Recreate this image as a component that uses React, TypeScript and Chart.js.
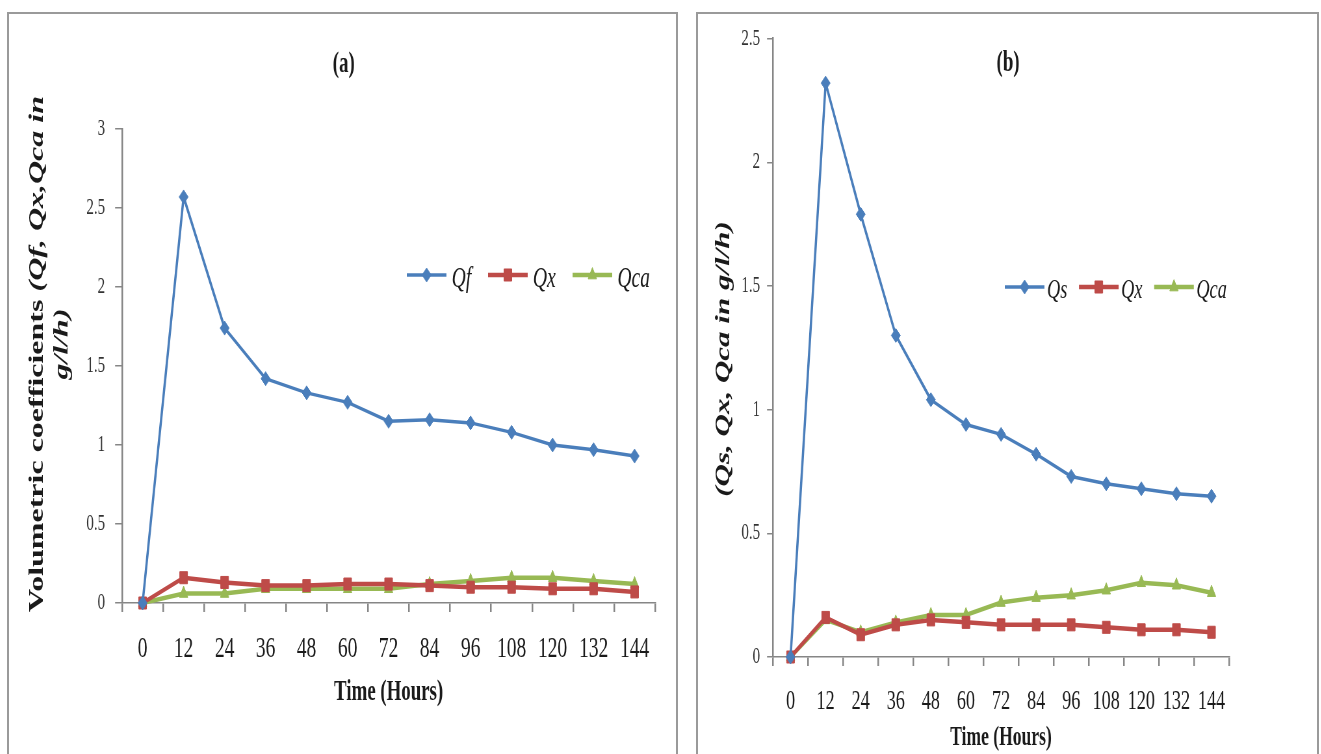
import React, { useEffect, useRef } from "react";
import { Chart, registerables } from "chart.js";

Chart.register(...registerables);

// The original figure is horizontally squeezed; we draw wider and squeeze with CSS.
const SQ = 0.65;

const hours = ["0", "12", "24", "36", "48", "60", "72", "84", "96", "108", "120", "132", "144"];

// Panel (a)
const qfA = [0, 2.57, 1.74, 1.42, 1.33, 1.27, 1.15, 1.16, 1.14, 1.08, 1.0, 0.97, 0.93];
const qxA = [0, 0.16, 0.13, 0.11, 0.11, 0.12, 0.12, 0.11, 0.1, 0.1, 0.09, 0.09, 0.07];
const qcaA = [0, 0.06, 0.06, 0.09, 0.09, 0.09, 0.09, 0.12, 0.14, 0.16, 0.16, 0.14, 0.12];

// Panel (b)
const qsB = [0, 2.32, 1.79, 1.3, 1.04, 0.94, 0.9, 0.82, 0.73, 0.7, 0.68, 0.66, 0.65];
const qxB = [0, 0.16, 0.09, 0.13, 0.15, 0.14, 0.13, 0.13, 0.13, 0.12, 0.11, 0.11, 0.1];
const qcaB = [0, 0.15, 0.1, 0.14, 0.17, 0.17, 0.22, 0.24, 0.25, 0.27, 0.3, 0.29, 0.26];

const BLUE = "#4A7EBB";
const RED = "#BE4B48";
const GREEN = "#98B954";
const AXIS = "#868686";
const TEXT = "#1a1a1a";
const SERIF = "'Liberation Serif', 'Times New Roman', serif";

function drawMarker(ctx: CanvasRenderingContext2D, style: string, x: number, y: number, r: number, color: string) {
  ctx.save();
  ctx.fillStyle = color;
  ctx.strokeStyle = color;
  ctx.lineWidth = 1;
  ctx.beginPath();
  if (style === "rectRot") {
    ctx.moveTo(x, y - r);
    ctx.lineTo(x + r, y);
    ctx.lineTo(x, y + r);
    ctx.lineTo(x - r, y);
    ctx.closePath();
  } else if (style === "rect") {
    const s = r * Math.SQRT1_2;
    ctx.rect(x - s, y - s, 2 * s, 2 * s);
  } else {
    const h = r * 1.5;
    ctx.moveTo(x, y - h * 0.66);
    ctx.lineTo(x + r * 0.87, y + h * 0.34);
    ctx.lineTo(x - r * 0.87, y + h * 0.34);
    ctx.closePath();
  }
  ctx.fill();
  ctx.stroke();
  ctx.restore();
}

const decor = {
  id: "decor",
  afterDraw(chart: any, _args: any, o: any) {
    const ctx: CanvasRenderingContext2D = chart.ctx;
    ctx.save();
    // panel title
    ctx.fillStyle = TEXT;
    ctx.font = `bold ${o.titleSize}px ${SERIF}`;
    ctx.textAlign = "center";
    ctx.textBaseline = "middle";
    ctx.fillText(o.title, o.titleX, o.titleY);

    // y axis title (rotated, possibly mixed styles)
    for (const line of o.yLines) {
      ctx.save();
      ctx.translate(line.x, line.y);
      ctx.rotate(-Math.PI / 2);
      ctx.textAlign = "left";
      ctx.textBaseline = "middle";
      ctx.fillStyle = TEXT;
      let total = 0;
      for (const s of line.segs) {
        ctx.font = s.font;
        total += ctx.measureText(s.text).width;
      }
      let cx = -total / 2;
      for (const s of line.segs) {
        ctx.font = s.font;
        ctx.fillText(s.text, cx, 0);
        cx += ctx.measureText(s.text).width;
      }
      ctx.restore();
    }

    // legend
    const L = o.legend;
    let x = L.x;
    const y = L.y;
    chart.data.datasets.forEach((ds: any) => {
      ctx.strokeStyle = ds.borderColor;
      ctx.lineWidth = ds.borderWidth;
      ctx.beginPath();
      ctx.moveTo(x, y);
      ctx.lineTo(x + L.lineLen, y);
      ctx.stroke();
      drawMarker(ctx, ds.pointStyle, x + L.lineLen / 2, y, ds.pointRadius, ds.borderColor);
      x += L.lineLen + L.gap;
      ctx.font = `italic ${L.size}px ${SERIF}`;
      ctx.fillStyle = TEXT;
      ctx.textAlign = "left";
      ctx.textBaseline = "middle";
      ctx.fillText(ds.label, x, y + L.textDy);
      x += ctx.measureText(ds.label).width + L.spacing;
    });
    ctx.restore();
  },
};

type Series = { label: string; data: number[]; color: string; width: number; style: string; radius: number };

function buildConfig(p: any) {
  return {
    type: "line",
    data: {
      labels: hours,
      datasets: p.series.map((s: Series) => ({
        label: s.label,
        data: s.data,
        borderColor: s.color,
        backgroundColor: s.color,
        borderWidth: s.width,
        pointStyle: s.style,
        pointRadius: s.radius,
        pointBackgroundColor: s.color,
        pointBorderColor: s.color,
        pointBorderWidth: 1,
        tension: 0,
        fill: false,
        clip: false,
      })),
    },
    options: {
      responsive: false,
      animation: false,
      events: [],
      layout: { padding: { left: 0, right: p.padRight, top: p.padTop, bottom: 0 } },
      plugins: {
        legend: { display: false },
        title: { display: false },
        tooltip: { enabled: false },
        decor: p.decor,
      },
      scales: {
        x: {
          type: "category",
          offset: true,
          grid: {
            offset: true,
            drawOnChartArea: false,
            drawTicks: true,
            tickLength: 9,
            color: AXIS,
            lineWidth: 2.5,
          },
          border: { display: true, color: AXIS, width: 1.5 },
          ticks: {
            font: { family: SERIF, size: p.xTickSize },
            color: TEXT,
            padding: p.xTickPad,
            maxRotation: 0,
            autoSkip: false,
          },
          title: {
            display: true,
            text: "Time (Hours)",
            font: { family: SERIF, size: p.xTitleSize, weight: "bold" },
            color: TEXT,
            padding: { top: 0, bottom: p.xTitlePadBottom },
          },
          afterFit: (s: any) => {
            s.height = p.xHeight;
          },
        },
        y: {
          min: 0,
          max: p.yMax,
          ticks: {
            stepSize: 0.5,
            font: { family: SERIF, size: p.yTickSize },
            color: "#333",
            padding: p.yTickPad,
            callback: (v: any) => `${Number(v)}`,
          },
          grid: {
            drawOnChartArea: false,
            drawTicks: true,
            tickLength: p.yTickLen,
            color: AXIS,
            lineWidth: 1.5,
          },
          border: { display: true, color: AXIS, width: 2.5 },
          afterFit: (s: any) => {
            s.width = p.yWidth;
          },
        },
      },
    },
    plugins: [decor],
  };
}

function ChartCanvas({ config, width, height }: { config: any; width: number; height: number }) {
  const ref = useRef<HTMLCanvasElement | null>(null);
  useEffect(() => {
    if (!ref.current) return;
    const chart = new Chart(ref.current, config);
    return () => chart.destroy();
  }, [config]);
  return <canvas ref={ref} width={width} height={height} style={{ display: "block" }} />;
}

const boldSerif = (size: number) => `bold ${size}px ${SERIF}`;
const boldItalicSerif = (size: number) => `italic bold ${size}px ${SERIF}`;

const configA = buildConfig({
  series: [
    { label: "Qf", data: qfA, color: BLUE, width: 3.5, style: "rectRot", radius: 7 },
    { label: "Qx", data: qxA, color: RED, width: 4.5, style: "rect", radius: 8.5 },
    { label: "Qca", data: qcaA, color: GREEN, width: 4.5, style: "triangle", radius: 7.5 },
  ],
  padRight: 32,
  padTop: 115,
  yMax: 3,
  yWidth: 174,
  yTickLen: 10.8,
  yTickPad: 15.5,
  yTickSize: 23,
  xHeight: 151,
  xTickSize: 30,
  xTickPad: 19,
  xTitleSize: 29,
  xTitlePadBottom: 44,
  decor: {
    title: "(a)",
    titleSize: 29,
    titleX: 515,
    titleY: 51,
    yLines: [
      {
        x: 44,
        y: 340,
        segs: [
          { text: "Volumetric coefficients ", font: boldSerif(32) },
          { text: "(Qf, Qx,Qca in", font: boldItalicSerif(32) },
        ],
      },
      { x: 82, y: 330, segs: [{ text: "g/l/h)", font: boldItalicSerif(32) }] },
    ],
    legend: { x: 612, y: 261, lineLen: 61, gap: 8, spacing: 26, size: 30, textDy: 4 },
  },
});

const configB = buildConfig({
  series: [
    { label: "Qs", data: qsB, color: BLUE, width: 3.5, style: "rectRot", radius: 7 },
    { label: "Qx", data: qxB, color: RED, width: 4.5, style: "rect", radius: 8.5 },
    { label: "Qca", data: qcaB, color: GREEN, width: 4.5, style: "triangle", radius: 7.5 },
  ],
  padRight: 135,
  padTop: 19,
  yMax: 2.5,
  yWidth: 115.4,
  yTickLen: 9.2,
  yTickPad: 10.8,
  yTickSize: 23,
  xHeight: 97,
  xTickSize: 28,
  xTickPad: 19,
  xTitleSize: 27,
  xTitlePadBottom: 0,
  decor: {
    title: "(b)",
    titleSize: 29,
    titleX: 477,
    titleY: 50,
    yLines: [{ x: 40, y: 345, segs: [{ text: "(Qs, Qx, Qca in g/l/h)", font: boldItalicSerif(31) }] }],
    legend: { x: 472, y: 273, lineLen: 61, gap: 4, spacing: 18, size: 28, textDy: 4 },
  },
});

const panelStyle = (left: number, width: number): React.CSSProperties => ({
  position: "absolute",
  left,
  top: 12,
  width,
  height: 760,
  border: "2px solid #9a9a9a",
  boxSizing: "border-box",
  background: "#fff",
  overflow: "hidden",
});

const squeezeStyle: React.CSSProperties = {
  position: "absolute",
  left: 0,
  top: 0,
  transform: `scaleX(${SQ})`,
  transformOrigin: "0 0",
};

export default function App() {
  const wA = Math.round(667 / SQ);
  const wB = Math.round(619 / SQ);
  return (
    <div
      style={{
        position: "fixed",
        left: 0,
        top: 0,
        width: 1321,
        height: 754,
        overflow: "hidden",
        background: "#fff",
      }}
    >
      <div style={panelStyle(7, 671)}>
        <div style={squeezeStyle}>
          <ChartCanvas config={configA} width={wA} height={740} />
        </div>
      </div>
      <div style={panelStyle(696, 623)}>
        <div style={squeezeStyle}>
          <ChartCanvas config={configB} width={wB} height={740} />
        </div>
      </div>
    </div>
  );
}
